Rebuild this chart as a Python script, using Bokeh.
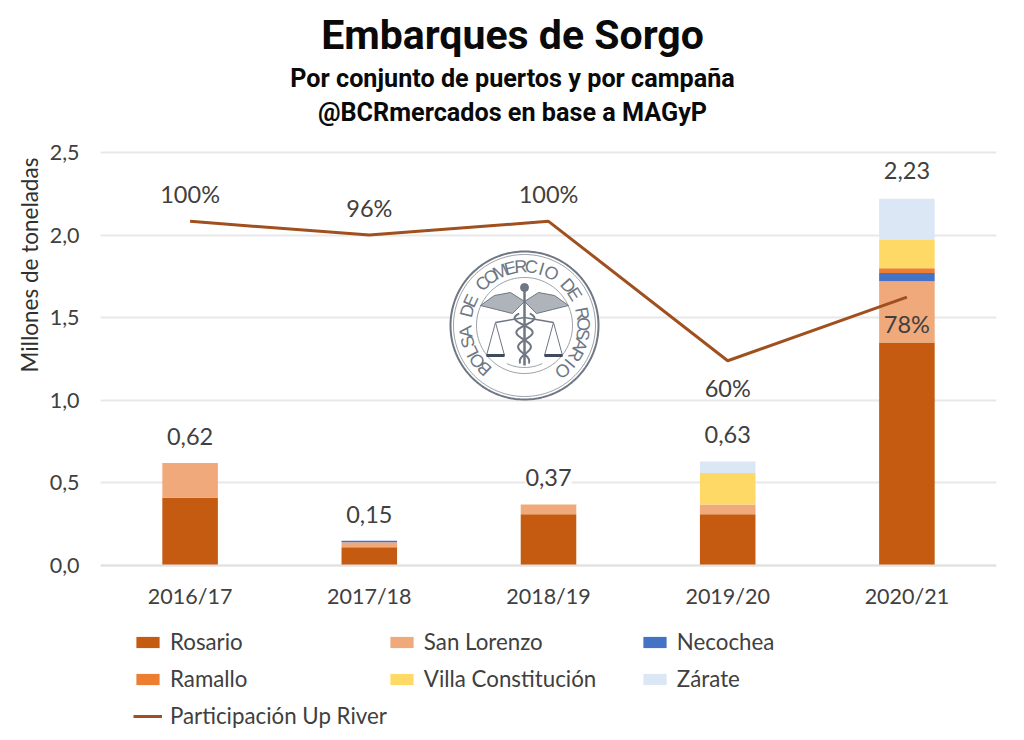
import numpy as np
from bokeh.plotting import figure
from bokeh.embed import file_html
from bokeh.resources import INLINE
from bokeh.core.properties import value
from bokeh.models import (Range1d, FactorRange, Title, Legend, LegendItem,
                          ColumnDataSource, CustomJSTickFormatter)

campaigns = ["2016/17", "2017/18", "2018/19", "2019/20", "2020/21"]
ports = ["Rosario", "San Lorenzo", "Necochea", "Ramallo", "Villa Constitución", "Zárate"]
rosario = [0.41, 0.11, 0.31, 0.31, 1.35]
san_lorenzo = [0.21, 0.03, 0.06, 0.06, 0.37]
necochea = [0.0, 0.01, 0.0, 0.0, 0.05]
ramallo = [0.0, 0.0, 0.0, 0.0, 0.03]
villa_constitucion = [0.0, 0.0, 0.0, 0.19, 0.17]
zarate = [0.0, 0.0, 0.0, 0.07, 0.25]
totals = [0.62, 0.15, 0.37, 0.63, 2.23]
total_labels = ["0,62", "0,15", "0,37", "0,63", "2,23"]
up_river = [1.00, 0.96, 1.00, 0.595, 0.78]
up_river_labels = ["100%", "96%", "100%", "60%", "78%"]
port_colors = ["#C55A11", "#EFA97A", "#4472C4", "#ED7D31", "#FFD966", "#DCE7F5"]
LINE = "#A0501E"
TXT = "#404040"
FONT = "Lato"
HEAD = "Roboto"

# The frame runs the full height of the page, so title and legend are drawn inside it.
FRAME_H = 735
UNIT = 413 / 2.5        # px per million tonnes
Y_TOP = 565 / UNIT
Y_BOT = (565 - FRAME_H) / UNIT
PCT = 1.2 / 2.5

p = figure(frame_width=896, frame_height=FRAME_H,
           x_range=FactorRange(factors=campaigns, range_padding=0, factor_padding=0),
           y_range=Range1d(Y_BOT, Y_TOP), output_backend="svg", toolbar_location=None,
           min_border_left=100, min_border_right=24, min_border_top=0, min_border_bottom=4,
           outline_line_color=None, background_fill_color="white", border_fill_color="white")
p.extra_y_ranges["pct"] = Range1d(Y_BOT * PCT, Y_TOP * PCT)
p.extra_y_ranges["py"] = Range1d(FRAME_H, 0)


def fx(v):
    """Picture pixel to the category axis' numeric position."""
    return ((np.asarray(v, dtype=float) - 100) / 179.2).tolist()


p.xgrid.visible = False
p.ygrid.grid_line_color = "#E8E8E8"
p.ygrid.grid_line_width = 2
p.yaxis.ticker = [0, 0.5, 1.0, 1.5, 2.0, 2.5]
p.yaxis.formatter = CustomJSTickFormatter(code="return tick.toFixed(1).replace('.', ',')")
p.yaxis.axis_line_color = None
p.yaxis.major_tick_line_color = None
p.yaxis.minor_tick_line_color = None
p.yaxis.major_label_standoff = 15
p.xaxis.fixed_location = 0
p.xaxis.axis_line_color = "#E2E2E2"
p.xaxis.axis_line_width = 2
p.xaxis.major_tick_line_color = None
p.xaxis.minor_tick_line_color = None
p.xaxis.major_label_standoff = 11
for ax in (p.xaxis, p.yaxis):
    ax.major_label_text_font = FONT
    ax.major_label_text_font_size = "21.5px"
    ax.major_label_text_color = TXT

src = ColumnDataSource(dict(c=campaigns, Rosario=rosario, SL=san_lorenzo, Nec=necochea, Ram=ramallo,
                            VC=villa_constitucion, Zar=zarate, t=totals, tl=total_labels,
                            u=up_river, ul=up_river_labels))
bars = p.vbar_stack(["Rosario", "SL", "Nec", "Ram", "VC", "Zar"], x="c", width=0.31, source=src,
                    color=port_colors, line_width=0)

# Seal, drawn in picture pixels through the fx helper and the py range
CX, CY = 524, 325
K = dict(y_range_name="py")
SEAL = "#6E7783"
th = np.linspace(0, 2 * np.pi, 200)
p.patch(fx(CX + 74 * np.sin(th)), CY + 74 * np.cos(th), fill_color="white", fill_alpha=0.8, line_color=SEAL, line_width=2, **K)
for r, w in ((71, 1), (48, 1)):
    p.line(fx(CX + r * np.sin(th)), CY + r * np.cos(th), line_color=SEAL, line_width=w, line_alpha=0.7, **K)
motto = "BOLSA DE COMERCIO DE ROSARIO"
angs = np.radians(np.linspace(-137, 140, len(motto)))
p.text(fx(CX + 59 * np.sin(angs)), CY - 59 * np.cos(angs), text=list(motto), angle=-angs,
       text_font=value("Liberation Sans"), text_font_size="18px", text_color=SEAL,
       text_align="center", text_baseline="middle", **K)
# staff and knob
p.line(fx([CX, CX]), [CY - 36, CY + 40], line_color=SEAL, line_width=2.5, **K)
p.scatter(fx([CX]), [CY - 38], size=8, color=SEAL, **K)
# wings
for s in (-1, 1):
    p.patch(fx([CX, CX + s * 14, CX + s * 30, CX + s * 44, CX + s * 28, CX + s * 12]),
            [CY - 24, CY - 33, CY - 30, CY - 20, CY - 16, CY - 12], fill_color=SEAL, fill_alpha=0.55, line_color=SEAL, line_width=1, **K)
    # scales
    bx = CX + s * 29
    p.line(fx([CX, bx]), [CY - 8, CY - 3], line_color=SEAL, line_width=1.5, **K)
    p.line(fx([bx - 9, bx, bx + 9, bx - 9]), [CY + 30, CY - 3, CY + 30, CY + 30], line_color=SEAL, line_width=1, **K)
    p.line(fx([bx - 9, bx + 9]), [CY + 30, CY + 30], line_color="#3F4A5C", line_width=3, **K)
# snake
sy = np.linspace(CY - 12, CY + 38, 80)
for ph in (0, np.pi):
    p.line(fx(CX + (9 - 0.12 * (sy - CY)) * np.sin((sy - CY) / 4.6 + ph)), sy, line_color=SEAL, line_width=2, **K)
# small arc under the emblem
ta = np.radians(np.linspace(-25, 25, 30))
p.line(fx(CX + 42 * np.sin(ta)), CY + 42 * np.cos(ta), line_color=SEAL, line_width=1, line_alpha=0.7, **K)

line = p.line("c", "u", source=src, y_range_name="pct", line_color=LINE, line_width=3)

p.text("c", "t", text="tl", source=src, y_offset=-18, text_align="center", text_baseline="bottom",
       text_font=value(FONT), text_font_size="23.5px", text_color=TXT,
       background_fill_color="white", background_fill_alpha=0.9)
above = [i for i in range(5) if up_river[i] > 0.9]
below = [i for i in range(5) if up_river[i] <= 0.9]
for idx, off, base in ((above, -13, "bottom"), (below, 13, "top")):
    p.text([campaigns[i] for i in idx], [up_river[i] for i in idx], text=[up_river_labels[i] for i in idx],
           y_range_name="pct", y_offset=off, text_align="center", text_baseline=base,
           text_font=value(FONT), text_font_size="23.5px", text_color=TXT)

items = [LegendItem(label=n, renderers=[b]) for n, b in zip(ports, bars)]
items.append(LegendItem(label="Participación Up River", renderers=[line]))
legend = Legend(items=items, ncols=3, orientation="horizontal", location=(33, 1), border_line_color=None,
                background_fill_alpha=0, glyph_width=29, glyph_height=14, label_standoff=8,
                label_width=216, label_height=37, spacing=0, padding=0, margin=0,
                label_text_font=FONT, label_text_font_size="22.3px", label_text_color=TXT)
p.add_layout(legend, "center")

for txt, y, size in (("Embarques de Sorgo", 34, "41px"), ("Por conjunto de puertos y por campaña", 78, "25.2px"),
                     ("@BCRmercados en base a MAGyP", 112, "25.2px")):
    p.text(fx([512]), [y], text=[txt], text_align="center", text_baseline="middle", text_font=value(HEAD),
           text_font_style="bold", text_font_size=size, text_color="#0A0A0A", **K)
p.add_layout(Title(text="Millones de toneladas", align="left", offset=363, standoff=8, text_font=FONT,
                   text_font_style="normal", text_font_size="22.5px", text_color="#303030"), "left")

open("out.html", "w").write(file_html(p, INLINE))
